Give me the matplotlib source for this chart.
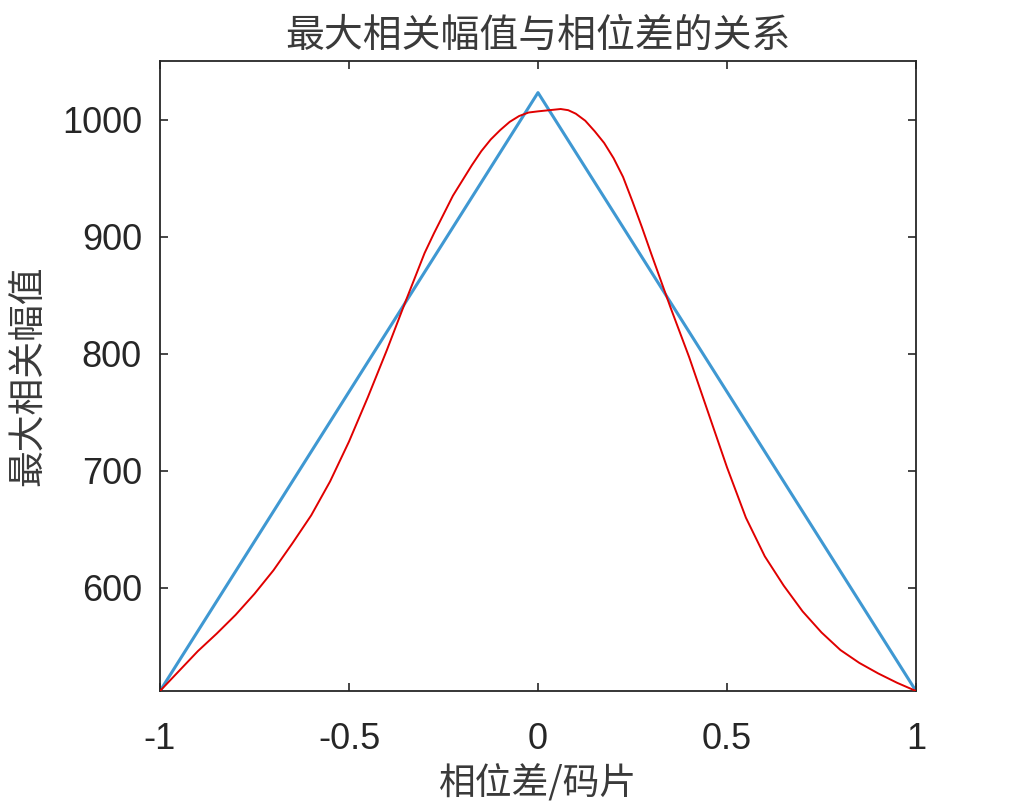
import matplotlib
matplotlib.use("Agg")
import matplotlib.pyplot as plt

# ---- data ----
blue_x = [-1.0, 0.0, 1.0]
blue_y = [512, 1023, 512]

red_x = [-1.0, -0.95, -0.9, -0.85, -0.8, -0.75, -0.7, -0.65, -0.6, -0.55,
         -0.5, -0.45, -0.4, -0.35, -0.3, -0.275, -0.25, -0.225, -0.2, -0.175,
         -0.15, -0.125, -0.1, -0.075, -0.05, -0.025, 0.0, 0.03, 0.06, 0.08,
         0.1, 0.125, 0.15, 0.175, 0.2, 0.225, 0.25, 0.275, 0.3, 0.35,
         0.4, 0.45, 0.5, 0.55, 0.6, 0.65, 0.7, 0.75, 0.8, 0.85,
         0.9, 0.95, 1.0]
red_y = [512, 529, 546, 561, 577, 595, 615, 638, 662, 691,
         725, 763, 803, 845, 886, 903, 919, 935, 948, 961,
         973, 983, 991, 998, 1003, 1006, 1007, 1008, 1009, 1008,
         1005, 999, 990, 980, 967, 951, 930, 908, 885, 840,
         797, 750, 703, 660, 627, 602, 580, 562, 547, 536,
         527, 519, 512]

x_ticks = [-1, -0.5, 0, 0.5, 1]
x_tick_labels = ["-1", "-0.5", "0", "0.5", "1"]
y_ticks = [600, 700, 800, 900, 1000]
y_tick_labels = ["600", "700", "800", "900", "1000"]

title_text = "最大相关幅值与相位差的关系"
xlabel_text = "相位差/码片"
ylabel_text = "最大相关幅值"

# ---- figure ----
cjk = ["Noto Sans CJK SC", "DejaVu Sans"]
num_font = ["Liberation Sans", "DejaVu Sans"]
txt_color = "#3a3a3a"
axis_color = "#262626"

fig = plt.figure(figsize=(10.14, 8.09), dpi=100)
ax = fig.add_axes([160 / 1014, (809 - 691) / 809, 756 / 1014, 630 / 809])

ax.plot(blue_x, blue_y, color="#3f98d2", linewidth=2.2, zorder=2)
ax.plot(red_x, red_y, color="#e00000", linewidth=1.4, zorder=3)

ax.set_xlim(-1, 1)
ax.set_ylim(512, 1050)
ax.set_xticks(x_ticks)
ax.set_xticklabels(x_tick_labels)
ax.set_yticks(y_ticks)
ax.set_yticklabels(y_tick_labels)

for lab in ax.get_xticklabels() + ax.get_yticklabels():
    lab.set_fontfamily(num_font)
    lab.set_fontsize(26)
    lab.set_color(axis_color)

ax.tick_params(axis="both", direction="in", length=6, width=1.2,
               colors=axis_color, top=True, right=True)
ax.tick_params(axis="x", pad=22)
ax.tick_params(axis="y", pad=13)
for s in ax.spines.values():
    s.set_color(axis_color)
    s.set_linewidth(1.3)

ax.set_title(title_text, family=cjk, fontsize=28, color=txt_color, pad=10)
ax.set_xlabel(xlabel_text, family=cjk, fontsize=26.5, color=txt_color, labelpad=6)
ax.set_ylabel(ylabel_text, family=cjk, fontsize=26.5, color=txt_color, labelpad=10)

fig.savefig("out.png", dpi=100, facecolor="white")
